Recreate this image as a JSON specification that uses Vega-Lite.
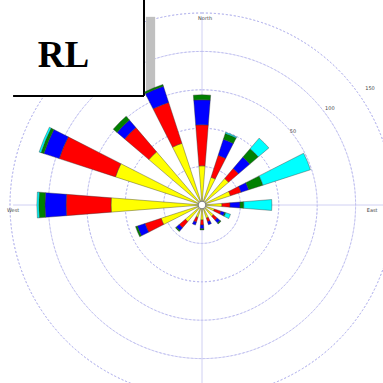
{
  "$schema": "https://vega.github.io/schema/vega-lite/v6.json",
  "width": 384,
  "height": 384,
  "autosize": "none",
  "padding": {"left": 10, "top": 13, "right": 0, "bottom": 0},
  "background": "white",
  "config": {"view": {"stroke": null}},
  "datasets": {
    "bars": [
      {"dir": 0, "cls": "c1", "v": 10.2}, {"dir": 0, "cls": "c2", "v": 10.7}, {"dir": 0, "cls": "c3", "v": 6.5}, {"dir": 0, "cls": "c4", "v": 1.3},
      {"dir": 22.5, "cls": "c1", "v": 7.6}, {"dir": 22.5, "cls": "c2", "v": 6.0}, {"dir": 22.5, "cls": "c3", "v": 4.4}, {"dir": 22.5, "cls": "c4", "v": 1.6}, {"dir": 22.5, "cls": "c5", "v": 0.3},
      {"dir": 45, "cls": "c1", "v": 9.1}, {"dir": 45, "cls": "c2", "v": 3.4}, {"dir": 45, "cls": "c3", "v": 3.9}, {"dir": 45, "cls": "c4", "v": 2.9}, {"dir": 45, "cls": "c5", "v": 3.6},
      {"dir": 67.5, "cls": "c1", "v": 7.8}, {"dir": 67.5, "cls": "c2", "v": 2.9}, {"dir": 67.5, "cls": "c3", "v": 2.1}, {"dir": 67.5, "cls": "c4", "v": 3.9}, {"dir": 67.5, "cls": "c5", "v": 13.0},
      {"dir": 90, "cls": "c1", "v": 5.2}, {"dir": 90, "cls": "c2", "v": 2.1}, {"dir": 90, "cls": "c3", "v": 2.6}, {"dir": 90, "cls": "c4", "v": 1.0}, {"dir": 90, "cls": "c5", "v": 7.3},
      {"dir": 112.5, "cls": "c1", "v": 3.4}, {"dir": 112.5, "cls": "c2", "v": 1.8}, {"dir": 112.5, "cls": "c3", "v": 1.0}, {"dir": 112.5, "cls": "c4", "v": 0.3}, {"dir": 112.5, "cls": "c5", "v": 1.3},
      {"dir": 135, "cls": "c1", "v": 3.9}, {"dir": 135, "cls": "c2", "v": 1.3}, {"dir": 135, "cls": "c3", "v": 1.0}, {"dir": 135, "cls": "c4", "v": 0.3},
      {"dir": 157.5, "cls": "c1", "v": 3.6}, {"dir": 157.5, "cls": "c2", "v": 1.0}, {"dir": 157.5, "cls": "c3", "v": 0.8},
      {"dir": 180, "cls": "c1", "v": 3.9}, {"dir": 180, "cls": "c2", "v": 1.3}, {"dir": 180, "cls": "c3", "v": 1.0}, {"dir": 180, "cls": "c4", "v": 0.3},
      {"dir": 202.5, "cls": "c1", "v": 3.4}, {"dir": 202.5, "cls": "c2", "v": 1.3}, {"dir": 202.5, "cls": "c3", "v": 0.8},
      {"dir": 225, "cls": "c1", "v": 5.7}, {"dir": 225, "cls": "c2", "v": 2.1}, {"dir": 225, "cls": "c3", "v": 1.0}, {"dir": 225, "cls": "c4", "v": 0.3},
      {"dir": 247.5, "cls": "c1", "v": 11.2}, {"dir": 247.5, "cls": "c2", "v": 4.4}, {"dir": 247.5, "cls": "c3", "v": 2.1}, {"dir": 247.5, "cls": "c4", "v": 0.5},
      {"dir": 270, "cls": "c1", "v": 23.7}, {"dir": 270, "cls": "c2", "v": 11.7}, {"dir": 270, "cls": "c3", "v": 5.5}, {"dir": 270, "cls": "c4", "v": 1.6}, {"dir": 270, "cls": "c5", "v": 0.5},
      {"dir": 292.5, "cls": "c1", "v": 23.7}, {"dir": 292.5, "cls": "c2", "v": 15.4}, {"dir": 292.5, "cls": "c3", "v": 4.2}, {"dir": 292.5, "cls": "c4", "v": 0.8}, {"dir": 292.5, "cls": "c5", "v": 0.5},
      {"dir": 315, "cls": "c1", "v": 18.2}, {"dir": 315, "cls": "c2", "v": 8.3}, {"dir": 315, "cls": "c3", "v": 2.6}, {"dir": 315, "cls": "c4", "v": 1.3},
      {"dir": 337.5, "cls": "c1", "v": 16.9}, {"dir": 337.5, "cls": "c2", "v": 11.2}, {"dir": 337.5, "cls": "c3", "v": 4.4}, {"dir": 337.5, "cls": "c4", "v": 0.5}
    ],
    "rings": [{"r": 10}, {"r": 20}, {"r": 30}, {"r": 40}, {"r": 50}],
    "axes": [{"x": -49.2, "x2": 52, "y": 0, "y2": 0}, {"x": 0, "x2": 0, "y": 49, "y2": -52}],
    "box": [{"x": -52, "x2": -15.1, "y": 56, "y2": 28.4}],
    "shadow": [{"x": -14.6, "x2": -12.2, "y": 49, "y2": 28.2}],
    "border": [{"x": -15.1, "x2": -15.1, "y": 56, "y2": 28.4}, {"x": -49.2, "x2": -15.1, "y": 28.4, "y2": 28.4}],
    "title": [{"x": -36.1, "y": 35.9, "t": "RL"}],
    "center": [{"x": 0, "y": 0}],
    "labels": [
      {"x": 0.8, "y": 48.7, "t": "North", "a": "left"},
      {"x": -49.2, "y": -1.3, "t": "West", "a": "left"},
      {"x": 44.3, "y": -1.3, "t": "East", "a": "left"},
      {"x": 23.7, "y": 19.3, "t": "50", "a": "center"},
      {"x": 33.3, "y": 25.3, "t": "100", "a": "center"},
      {"x": 43.75, "y": 30.5, "t": "150", "a": "center"}
    ]
  },
  "layer": [
    {
      "data": {"name": "rings"},
      "mark": {"type": "arc", "theta": 0, "theta2": 6.2832, "filled": false, "stroke": "#b4b4ec", "strokeDash": [2, 2], "strokeWidth": 0.8},
      "encoding": {
        "radius": {"field": "r", "type": "quantitative", "scale": {"type": "linear", "domain": [0, 50], "range": [0, 192], "zero": true}},
        "radius2": {"field": "r"}
      }
    },
    {
      "data": {"name": "axes"},
      "mark": {"type": "rule", "stroke": "#c4c4f0", "strokeWidth": 0.8},
      "encoding": {
        "x": {"field": "x", "type": "quantitative", "scale": {"domain": [-50, 50], "nice": false}, "axis": null},
        "x2": {"field": "x2"},
        "y": {"field": "y", "type": "quantitative", "scale": {"domain": [-50, 50], "nice": false}, "axis": null},
        "y2": {"field": "y2"}
      }
    },
    {
      "data": {"name": "box"},
      "mark": {"type": "rect", "fill": "white"},
      "encoding": {
        "x": {"field": "x", "type": "quantitative"}, "x2": {"field": "x2"},
        "y": {"field": "y", "type": "quantitative"}, "y2": {"field": "y2"}
      }
    },
    {
      "data": {"name": "shadow"},
      "mark": {"type": "rect", "fill": "#c0c0c0"},
      "encoding": {
        "x": {"field": "x", "type": "quantitative"}, "x2": {"field": "x2"},
        "y": {"field": "y", "type": "quantitative"}, "y2": {"field": "y2"}
      }
    },
    {
      "data": {"name": "border"},
      "mark": {"type": "rule", "stroke": "black", "strokeWidth": 2},
      "encoding": {
        "x": {"field": "x", "type": "quantitative"}, "x2": {"field": "x2"},
        "y": {"field": "y", "type": "quantitative"}, "y2": {"field": "y2"}
      }
    },
    {
      "data": {"name": "title"},
      "mark": {"type": "text", "font": "Liberation Serif", "fontWeight": "bold", "fontSize": 37, "align": "center", "baseline": "alphabetic", "color": "black"},
      "encoding": {
        "x": {"field": "x", "type": "quantitative"},
        "y": {"field": "y", "type": "quantitative"},
        "text": {"field": "t"}
      }
    },
    {
      "data": {"name": "bars"},
      "transform": [{"stack": "v", "groupby": ["dir"], "sort": [{"field": "cls", "order": "ascending"}], "as": ["r0", "r1"]}],
      "mark": {"type": "arc", "stroke": "#333333", "strokeWidth": 0.4},
      "encoding": {
        "theta": {"field": "dir", "type": "ordinal", "scale": {"type": "band", "range": [-0.19635, 6.08684], "paddingInner": 0.6, "paddingOuter": 0.3}},
        "radius": {"field": "r1", "type": "quantitative", "scale": {"type": "linear", "domain": [0, 50], "range": [0, 192], "zero": true}},
        "radius2": {"field": "r0"},
        "color": {"field": "cls", "type": "nominal", "scale": {"domain": ["c1", "c2", "c3", "c4", "c5"], "range": ["#ffff00", "#ff0000", "#0000ff", "#008000", "#00ffff"]}, "legend": null}
      }
    },
    {
      "data": {"name": "center"},
      "mark": {"type": "point", "shape": "circle", "filled": true, "fill": "white", "stroke": "#777777", "strokeWidth": 1, "size": 60, "opacity": 1},
      "encoding": {
        "x": {"field": "x", "type": "quantitative"},
        "y": {"field": "y", "type": "quantitative"}
      }
    },
    {
      "data": {"name": "labels"},
      "mark": {"type": "text", "fontSize": 5, "color": "#444444", "baseline": "middle", "font": "DejaVu Sans"},
      "encoding": {
        "x": {"field": "x", "type": "quantitative"},
        "y": {"field": "y", "type": "quantitative"},
        "text": {"field": "t"},
        "align": {"field": "a", "type": "nominal", "scale": null}
      }
    }
  ]
}
